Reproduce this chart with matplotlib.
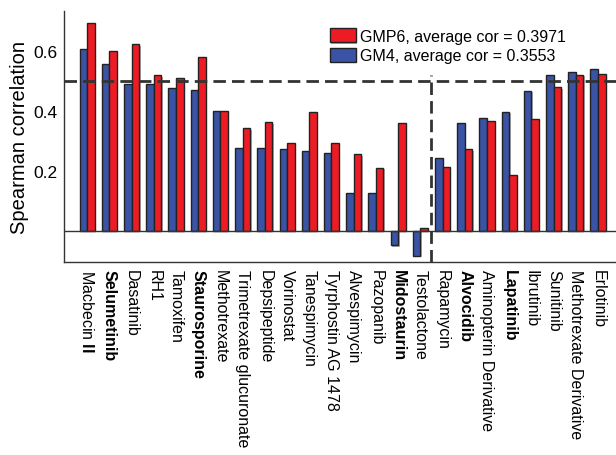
import numpy as np
import matplotlib
matplotlib.use('Agg')
import matplotlib.pyplot as plt
import matplotlib.patheffects as pe

plt.rcParams['font.family'] = ['Liberation Sans', 'DejaVu Sans']
plt.rcParams['mathtext.fontset'] = 'custom'
plt.rcParams['mathtext.rm'] = 'Liberation Sans'
plt.rcParams['mathtext.bf'] = 'Liberation Sans:bold'

# Fármacos y correlaciones
farmacos = ['Macbecin $\\mathbf{II}$', 'Selumetinib', 'Dasatinib', 'RH1', 'Tamoxifen',
            'Staurosporine', 'Methotrexate', 'Trimetrexate glucuronate', 'Depsipeptide',
            'Vorinostat', 'Tanespimycin', 'Tyrphostin AG 1478', 'Alvespimycin', 'Pazopanib',
            'Midostaurin', 'Testolactone', 'Rapamycin', 'Alvocidib', 'Aminopterin Derivative',
            'Lapatinib', 'Ibrutinib', 'Sunitinib', 'Methotrexate Derivative', 'Erlotinib']
negritas = ['Selumetinib', 'Staurosporine', 'Midostaurin', 'Alvocidib', 'Lapatinib']

gm4 = [0.609, 0.559, 0.492, 0.489, 0.477, 0.469, 0.401, 0.277, 0.276, 0.272, 0.268, 0.261,
       0.126, 0.126, -0.049, -0.084, 0.242, 0.360, 0.378, 0.397, 0.468, 0.522, 0.530, 0.540]
gmp6 = [0.696, 0.601, 0.623, 0.519, 0.510, 0.581, 0.401, 0.342, 0.363, 0.294, 0.396, 0.294,
        0.256, 0.210, 0.359, 0.009, 0.214, 0.272, 0.366, 0.186, 0.374, 0.480, 0.522, 0.523]

etiqueta_gmp6 = 'GMP6, average cor = 0.3971'
etiqueta_gm4 = 'GM4, average cor = 0.3553'

rojo = '#ED1C24'
azul = '#3A53A4'

fig = plt.figure(figsize=(6.16, 4.56), dpi=100)
ax = fig.add_axes([0.104, 0.423, 0.896, 0.551])

x = np.arange(len(farmacos))
w = 0.34
sombra = [pe.SimplePatchShadow(offset=(1, -1), shadow_rgbFace='0.55', alpha=0.7), pe.Normal()]
b1 = ax.bar(x - w / 2, gm4, w, color=azul, edgecolor='#222222', linewidth=1.0,
            label=etiqueta_gm4, zorder=3, path_effects=sombra)
b2 = ax.bar(x + w / 2, gmp6, w, color=rojo, edgecolor='#222222', linewidth=1.0,
            label=etiqueta_gmp6, zorder=3, path_effects=sombra)

ax.axhline(0, color='#333333', linewidth=1.0, zorder=4)
ax.axhline(0.5, color='#333333', linewidth=2, dashes=(4.5, 2.2), zorder=5)
ax.plot([15.5, 15.5], [-0.105, 0.52], color='#333333', linewidth=2, dashes=(4.5, 2.2), zorder=5)

ax.set_xlim(-1.04, 23.81)
ax.set_ylim(-0.105, 0.735)
ax.set_yticks([0.2, 0.4, 0.6])
ax.set_yticklabels(['0.2', '0.4', '0.6'], fontsize=12.5)
ax.set_xticks(x)
ax.set_xticklabels(farmacos, rotation=270, ha='center', va='top', fontsize=11.5)
for t in ax.get_xticklabels():
    if t.get_text() in negritas:
        t.set_fontweight('bold')
ax.tick_params(axis='both', length=0, pad=5)
ax.set_ylabel('Spearman correlation', fontsize=14.5, labelpad=3)

for s in ['top', 'right']:
    ax.spines[s].set_visible(False)
for s in ['left', 'bottom']:
    ax.spines[s].set_color('#333333')
    ax.spines[s].set_linewidth(1.0)

ax.legend([b2, b1], [etiqueta_gmp6, etiqueta_gm4], loc='upper left',
          bbox_to_anchor=(0.482, 0.93), frameon=False, fontsize=11.5,
          handlelength=1.6, handleheight=0.95, handletextpad=0.3,
          labelspacing=0.25, borderpad=0, borderaxespad=0)

plt.savefig('out.png', dpi=100)
